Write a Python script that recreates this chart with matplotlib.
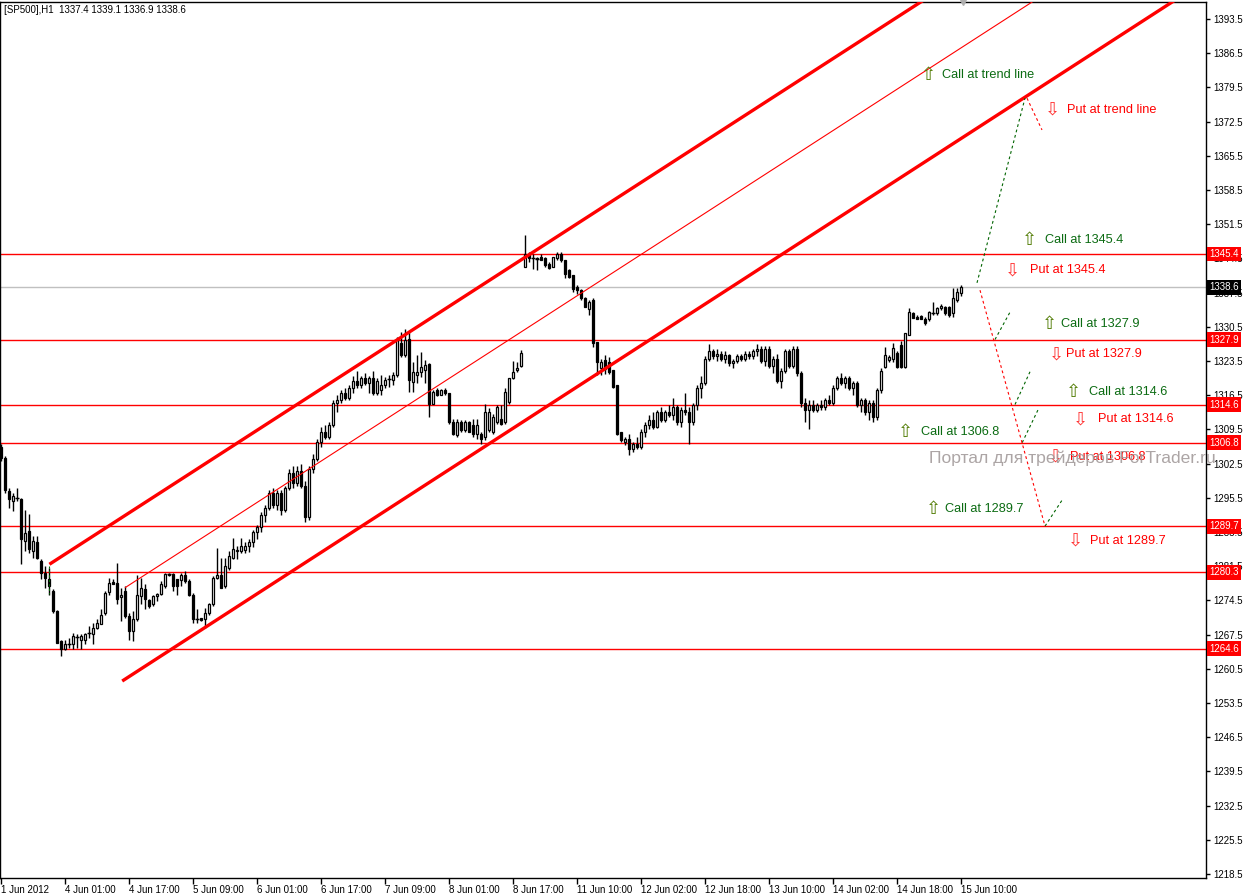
import numpy as np
import matplotlib
matplotlib.use('Agg')
import matplotlib.pyplot as plt

plt.rcParams['font.family'] = ['Liberation Sans', 'DejaVu Sans']

# H1 candles, [SP500] 1 Jun - 15 Jun 2012
opens = [
    1305.8, 1303.6, 1296.9, 1294.8, 1295.5, 1295.2, 1286.7, 1288.7, 1284.6, 1286.5,
    1282.6, 1280.2, 1278.8, 1276.4, 1272.3, 1266.2, 1264.5, 1265.5, 1265.5, 1267.1,
    1266.5, 1266.5, 1267.9, 1267.6, 1268.9, 1269.6, 1272.0, 1276.3, 1278.3, 1278.1,
    1275.1, 1276.4, 1271.3, 1268.2, 1270.6, 1275.5, 1276.8, 1274.5, 1273.7, 1275.4,
    1275.9, 1277.4, 1279.8, 1280.0, 1278.8, 1278.6, 1279.8, 1278.5, 1275.7, 1270.6,
    1271.0, 1270.6, 1272.0, 1273.7, 1279.0, 1279.8, 1277.4, 1281.2, 1283.2, 1284.6,
    1284.6, 1284.8, 1285.6, 1286.5, 1288.5, 1289.5, 1292.0, 1293.5, 1296.5, 1294.0,
    1296.5, 1293.0, 1297.5, 1300.5, 1298.5, 1301.0, 1298.0, 1291.5, 1301.5, 1303.5,
    1307.0, 1309.0, 1308.0, 1310.5, 1315.0, 1315.5, 1317.0, 1316.0, 1318.0, 1319.5,
    1318.5, 1320.0, 1319.0, 1320.0, 1317.0, 1317.5, 1318.5, 1319.8, 1319.6, 1320.6,
    1327.1, 1324.7, 1328.1, 1319.2, 1320.6, 1321.3, 1321.6, 1322.8, 1314.8, 1317.5,
    1316.5, 1317.5, 1316.9, 1311.0, 1308.3, 1311.0, 1309.3, 1311.0, 1310.4, 1308.6,
    1308.6, 1308.0, 1309.3, 1309.0, 1311.0, 1311.7, 1311.0, 1315.1, 1320.1, 1321.6,
    1322.5, 1342.8, 1345.5, 1344.5, 1344.5, 1344.8, 1344.5, 1343.4, 1342.8, 1344.5,
    1345.5, 1344.1, 1342.1, 1341.1, 1338.7, 1338.0, 1336.3, 1334.2, 1335.9, 1327.4,
    1322.0, 1323.7, 1323.3, 1321.6, 1318.5, 1309.0, 1306.9, 1307.6, 1305.5, 1306.5,
    1305.8, 1309.0, 1310.5, 1311.5, 1310.0, 1313.0, 1311.5, 1313.0, 1312.5, 1314.0,
    1311.0, 1313.5, 1313.0, 1311.0, 1314.5, 1318.0, 1319.0, 1324.0, 1325.5, 1324.5,
    1325.0, 1324.0, 1324.8, 1323.0, 1323.5, 1324.5, 1324.0, 1325.0, 1324.5, 1325.5,
    1326.0, 1323.5, 1326.0, 1322.5, 1324.0, 1319.5, 1321.5, 1325.5, 1322.5, 1326.0,
    1321.0, 1315.0, 1313.5, 1314.5, 1313.5, 1314.5, 1314.0, 1315.5, 1315.0, 1318.0,
    1320.0, 1319.0, 1320.0, 1318.0, 1319.0, 1314.5, 1315.5, 1313.0, 1315.0, 1312.0,
    1317.5, 1322.3, 1323.7, 1324.0, 1325.1, 1326.8, 1322.3, 1328.8, 1333.4, 1332.6,
    1332.7, 1332.2, 1332.2, 1333.3, 1333.3, 1334.3, 1334.6, 1334.6, 1333.3, 1336.0,
    1337.4,
]
highs = [
    1306.6, 1304.0, 1297.6, 1296.5, 1297.6, 1295.5, 1293.1, 1292.1, 1287.7, 1287.7,
    1282.9, 1281.5, 1281.2, 1276.8, 1272.5, 1266.4, 1266.5, 1266.9, 1267.9, 1267.6,
    1267.6, 1267.9, 1269.3, 1269.9, 1270.6, 1272.7, 1276.4, 1279.1, 1278.8, 1282.2,
    1277.1, 1277.4, 1272.0, 1272.3, 1279.8, 1279.1, 1277.8, 1274.7, 1275.7, 1276.1,
    1278.5, 1280.2, 1280.2, 1280.2, 1278.8, 1280.2, 1280.5, 1278.8, 1276.1, 1272.7,
    1271.0, 1273.0, 1274.0, 1279.5, 1285.3, 1283.2, 1283.2, 1284.6, 1287.3, 1285.6,
    1287.3, 1286.5, 1287.0, 1289.0, 1290.0, 1292.5, 1294.0, 1297.0, 1297.5, 1297.0,
    1297.0, 1298.0, 1301.5, 1302.0, 1302.0, 1302.5, 1299.0, 1302.0, 1304.5, 1307.5,
    1310.0, 1310.5, 1311.0, 1315.5, 1316.5, 1317.5, 1318.0, 1318.5, 1320.5, 1321.5,
    1320.5, 1321.0, 1320.5, 1321.5, 1320.0, 1320.6, 1320.2, 1320.6, 1321.3, 1328.4,
    1329.5, 1330.1, 1329.5, 1323.3, 1324.7, 1325.4, 1323.7, 1323.0, 1317.5, 1318.0,
    1317.7, 1317.9, 1316.9, 1311.7, 1311.7, 1311.4, 1311.4, 1311.2, 1311.7, 1311.7,
    1309.0, 1314.8, 1313.8, 1312.7, 1314.4, 1314.4, 1317.9, 1317.9, 1323.5, 1323.3,
    1325.7, 1349.2, 1345.8, 1345.5, 1344.8, 1345.5, 1344.8, 1343.8, 1344.8, 1345.8,
    1345.8, 1344.1, 1342.4, 1341.1, 1339.0, 1338.3, 1336.6, 1335.9, 1336.3, 1327.4,
    1324.0, 1324.7, 1324.3, 1321.6, 1318.5, 1309.0, 1308.0, 1308.5, 1307.0, 1308.0,
    1309.5, 1311.0, 1312.5, 1313.0, 1313.5, 1314.0, 1313.5, 1314.5, 1316.0, 1314.5,
    1314.0, 1317.0, 1314.0, 1315.0, 1318.5, 1320.5, 1324.5, 1327.0, 1326.0, 1326.0,
    1325.5, 1325.5, 1325.0, 1324.0, 1325.0, 1325.0, 1325.5, 1325.5, 1326.0, 1327.0,
    1326.5, 1326.5, 1326.5, 1324.5, 1325.0, 1322.0, 1326.0, 1326.0, 1326.5, 1326.5,
    1321.5, 1316.0, 1315.5, 1315.5, 1315.0, 1315.5, 1316.0, 1316.5, 1318.5, 1320.5,
    1321.0, 1320.5, 1320.5, 1319.5, 1319.5, 1316.0, 1316.0, 1315.5, 1315.5, 1318.0,
    1322.0, 1326.4, 1324.7, 1327.1, 1325.5, 1327.5, 1329.2, 1334.3, 1333.6, 1332.9,
    1333.0, 1332.6, 1333.7, 1335.6, 1334.6, 1335.1, 1334.8, 1334.8, 1338.4, 1338.4,
    1339.1,
]
lows = [
    1303.0, 1296.5, 1293.5, 1292.8, 1294.8, 1281.9, 1284.6, 1284.3, 1283.2, 1282.9,
    1278.8, 1277.1, 1275.7, 1272.0, 1265.8, 1263.1, 1264.3, 1264.8, 1264.5, 1264.8,
    1264.5, 1265.5, 1266.9, 1265.5, 1268.6, 1269.6, 1271.6, 1275.7, 1277.8, 1273.7,
    1270.3, 1271.0, 1266.5, 1266.2, 1270.3, 1273.7, 1272.7, 1273.0, 1273.4, 1274.4,
    1275.7, 1277.1, 1279.5, 1276.4, 1275.7, 1277.4, 1278.1, 1275.4, 1269.9, 1269.9,
    1270.3, 1268.9, 1271.6, 1273.4, 1278.9, 1277.1, 1277.1, 1280.8, 1282.9, 1282.9,
    1284.3, 1284.3, 1284.5, 1285.5, 1287.0, 1288.5, 1290.5, 1293.0, 1293.5, 1293.0,
    1292.0, 1292.5, 1297.0, 1297.5, 1298.0, 1297.5, 1290.5, 1291.0, 1300.5, 1303.0,
    1306.0, 1307.5, 1307.5, 1310.0, 1313.0, 1315.0, 1315.5, 1315.5, 1317.0, 1318.0,
    1318.0, 1318.5, 1317.0, 1316.5, 1316.5, 1316.5, 1317.9, 1318.2, 1318.5, 1320.2,
    1324.3, 1324.3, 1317.2, 1317.2, 1318.9, 1320.2, 1318.9, 1312.1, 1314.8, 1316.4,
    1316.5, 1316.5, 1310.7, 1308.3, 1308.0, 1309.0, 1309.0, 1309.0, 1308.0, 1307.6,
    1306.6, 1307.3, 1309.0, 1308.6, 1310.7, 1310.4, 1310.7, 1314.8, 1319.9, 1321.3,
    1322.3, 1342.8, 1343.8, 1342.4, 1342.1, 1344.1, 1342.8, 1342.4, 1342.8, 1344.1,
    1343.8, 1340.4, 1340.4, 1337.6, 1337.3, 1336.0, 1334.6, 1332.9, 1326.4, 1320.6,
    1320.6, 1320.9, 1320.9, 1317.9, 1308.3, 1306.9, 1306.3, 1304.3, 1304.8, 1305.5,
    1305.5, 1308.0, 1309.5, 1309.5, 1309.8, 1311.0, 1311.0, 1312.0, 1311.5, 1310.5,
    1310.0, 1312.5, 1306.5, 1310.5, 1313.5, 1316.0, 1318.5, 1323.5, 1324.0, 1323.5,
    1323.5, 1323.0, 1322.5, 1322.0, 1323.0, 1323.5, 1323.5, 1324.0, 1324.0, 1324.5,
    1323.0, 1322.5, 1322.0, 1321.0, 1319.0, 1318.0, 1321.0, 1322.0, 1322.0, 1320.5,
    1314.0, 1311.0, 1309.5, 1313.0, 1313.0, 1313.5, 1313.5, 1314.5, 1314.5, 1317.5,
    1318.5, 1318.0, 1317.5, 1316.5, 1314.0, 1313.0, 1312.5, 1311.5, 1311.0, 1311.5,
    1317.0, 1322.0, 1323.4, 1323.4, 1322.0, 1322.0, 1322.0, 1328.8, 1332.4, 1332.0,
    1332.0, 1330.9, 1331.6, 1332.9, 1332.9, 1334.0, 1332.9, 1332.6, 1332.6, 1335.6,
    1336.9,
]
closes = [
    1303.6, 1297.2, 1295.2, 1295.9, 1295.5, 1287.0, 1288.4, 1285.0, 1286.7, 1283.2,
    1280.2, 1279.1, 1277.4, 1272.3, 1265.8, 1264.5, 1265.5, 1265.6, 1267.2, 1267.0,
    1267.2, 1267.6, 1267.9, 1268.9, 1269.9, 1271.6, 1276.1, 1278.1, 1277.8, 1274.7,
    1275.7, 1271.3, 1268.2, 1270.6, 1275.7, 1277.1, 1274.7, 1273.4, 1275.4, 1275.9,
    1277.8, 1280.0, 1279.9, 1277.4, 1277.4, 1279.8, 1278.5, 1275.7, 1270.6, 1270.6,
    1270.4, 1272.0, 1273.7, 1279.1, 1279.8, 1277.1, 1281.5, 1283.6, 1285.0, 1284.8,
    1285.6, 1285.6, 1286.5, 1288.5, 1289.5, 1292.0, 1293.5, 1296.5, 1294.0, 1296.5,
    1293.0, 1297.5, 1300.5, 1298.5, 1301.0, 1298.0, 1291.5, 1301.5, 1303.5, 1307.0,
    1309.0, 1308.0, 1310.5, 1315.0, 1315.5, 1317.0, 1316.0, 1318.0, 1319.5, 1318.5,
    1320.0, 1319.0, 1320.0, 1317.0, 1319.5, 1318.5, 1319.6, 1319.9, 1320.6, 1328.1,
    1324.7, 1327.7, 1319.6, 1321.3, 1321.3, 1322.3, 1322.6, 1314.8, 1317.2, 1316.5,
    1317.5, 1316.9, 1311.0, 1308.6, 1311.0, 1309.3, 1311.0, 1309.0, 1308.6, 1310.4,
    1307.6, 1313.1, 1313.1, 1312.1, 1314.1, 1310.7, 1317.2, 1320.1, 1321.3, 1322.1,
    1325.2, 1345.5, 1344.5, 1344.5, 1344.4, 1344.1, 1343.1, 1342.6, 1344.8, 1345.5,
    1344.1, 1341.4, 1340.7, 1338.3, 1338.0, 1336.3, 1334.6, 1335.6, 1327.1, 1323.3,
    1323.3, 1321.9, 1321.3, 1318.2, 1308.6, 1307.3, 1307.6, 1305.5, 1306.5, 1305.8,
    1309.0, 1310.5, 1311.5, 1310.0, 1313.0, 1311.5, 1313.0, 1312.5, 1314.0, 1311.0,
    1313.5, 1313.0, 1311.0, 1314.5, 1318.0, 1319.0, 1324.0, 1325.5, 1324.5, 1325.0,
    1324.0, 1324.8, 1323.0, 1323.5, 1324.5, 1324.0, 1325.0, 1324.5, 1325.5, 1326.0,
    1323.5, 1326.0, 1322.5, 1324.0, 1319.5, 1321.5, 1325.5, 1322.5, 1326.0, 1321.0,
    1315.0, 1313.5, 1314.5, 1313.5, 1314.5, 1314.0, 1315.5, 1315.0, 1318.0, 1320.0,
    1319.0, 1320.0, 1318.0, 1319.0, 1314.5, 1315.5, 1313.0, 1315.0, 1312.0, 1317.5,
    1321.5, 1324.7, 1324.4, 1326.1, 1322.3, 1322.3, 1329.2, 1333.6, 1332.4, 1332.2,
    1332.2, 1331.2, 1333.6, 1333.4, 1334.3, 1334.8, 1333.3, 1332.9, 1336.3, 1337.6,
    1338.6,
]

x_labels = ['1 Jun 2012', '4 Jun 01:00', '4 Jun 17:00', '5 Jun 09:00', '6 Jun 01:00',
            '6 Jun 17:00', '7 Jun 09:00', '8 Jun 01:00', '8 Jun 17:00', '11 Jun 10:00',
            '12 Jun 02:00', '12 Jun 18:00', '13 Jun 10:00', '14 Jun 02:00',
            '14 Jun 18:00', '15 Jun 10:00']
y_ticks = [1393.5 - 7 * k for k in range(26)]

levels = [1345.4, 1327.9, 1314.6, 1306.8, 1289.7, 1280.3, 1264.6]
last_price = 1338.6

# channel lines: (bar start, price start, bar end, price end)
channel_upper = (12.1, 1281.9, 300.0, 1434.0)
channel_mid = (31.0, 1277.1, 300.0, 1419.3)
channel_lower = (30.3, 1258.0, 300.0, 1400.8)

# projected paths
green_paths = [
    [(244.0, 1339.5), (256.0, 1377.3)],
    [(248.5, 1327.9), (252.25, 1333.5)],
    [(253.5, 1314.6), (257.25, 1321.3)],
    [(255.3, 1306.8), (259.25, 1313.5)],
    [(261.0, 1289.7), (265.25, 1295.0)],
]
red_paths = [
    [(256.5, 1377.3), (260.25, 1370.8)],
    [(244.75, 1338.0), (261.0, 1289.7)],
]

# signals: (arrow bar, text bar, price, text)
calls = [
    (231.75, 235.25, 1382.0, 'Call at trend line'),
    (257.0, 261.0, 1348.3, 'Call at 1345.4'),
    (262.0, 265.0, 1331.1, 'Call at 1327.9'),
    (268.0, 272.0, 1317.2, 'Call at 1314.6'),
    (226.0, 230.0, 1309.0, 'Call at 1306.8'),
    (233.0, 236.0, 1293.2, 'Call at 1289.7'),
]
puts = [
    (262.75, 266.5, 1374.9, 'Put at trend line'),
    (252.75, 257.25, 1342.1, 'Put at 1345.4'),
    (263.75, 266.25, 1324.9, 'Put at 1327.9'),
    (269.75, 274.25, 1311.6, 'Put at 1314.6'),
    (263.5, 267.25, 1303.9, 'Put at 1306.8'),
    (268.5, 272.25, 1286.7, 'Put at 1289.7'),
]

W, H = 1245, 894
fig = plt.figure(figsize=(W / 100, H / 100), dpi=100)
ax = fig.add_axes([0, (H - 878) / H, 1206 / W, 876 / H])
ax.set_xlim(-0.25, 301.25)
ax.set_ylim(1217.69, 1396.98)

o = np.array(opens)
h = np.array(highs)
l = np.array(lows)
c = np.array(closes)
idx = np.arange(len(c))
up = c >= o

# horizontal levels
for lv in levels:
    ax.axhline(lv, color='red', lw=1, zorder=1)
ax.axhline(last_price, color='#c0c0c0', lw=1, zorder=1)

# candles
ax.vlines(idx, l, h, color='black', lw=1, zorder=3)
ax.bar(idx, np.abs(c - o), bottom=np.minimum(o, c), width=0.72,
       color=np.where(up, 'white', 'black'), edgecolor='black', linewidth=0.9, zorder=4)
doji = np.abs(c - o) < 0.15
ax.hlines(c[doji], idx[doji] - 0.4, idx[doji] + 0.4, color='black', lw=1, zorder=4)

# channel
for ln, lw in [(channel_upper, 2.4), (channel_lower, 2.4), (channel_mid, 0.8)]:
    ax.plot([ln[0], ln[2]], [ln[1], ln[3]], color='red', lw=lw, zorder=5,
            solid_capstyle='butt')
ax.plot([12.0, 12.0], [1281.5, 1275.8], color='#006400', lw=0.8,
        dashes=(2, 2), zorder=5)

for p in green_paths:
    ax.plot([p[0][0], p[1][0]], [p[0][1], p[1][1]], color='#006400', lw=0.8,
            dashes=(2.5, 2.5), zorder=5)
for p in red_paths:
    ax.plot([p[0][0], p[1][0]], [p[0][1], p[1][1]], color='red', lw=0.8,
            dashes=(2.5, 2.5), zorder=5)

for ab, tb, pr, txt in calls:
    ax.text(ab, pr, '\u21e7', color='#4f7a00', fontsize=13, ha='center', va='center',
            family='DejaVu Sans', zorder=6)
    ax.text(tb, pr, txt, color='#0b6b12', fontsize=9.2, ha='left', va='center', zorder=6)
for ab, tb, pr, txt in puts:
    ax.text(ab, pr, '\u21e9', color='#ff3030', fontsize=13, ha='center', va='center',
            family='DejaVu Sans', zorder=6)
    ax.text(tb, pr, txt, color='red', fontsize=9.2, ha='left', va='center', zorder=6)

ax.text(232.0, 1303.6, 'Портал для трейдеров ForTrader.ru', color='#a39b9b',
        fontsize=12.6, ha='left', va='center', alpha=0.9, zorder=7, clip_on=False)

# axes styling
for s in ax.spines.values():
    s.set_color('black')
    s.set_linewidth(1)
ax.yaxis.tick_right()
ax.set_yticks(y_ticks)
ax.set_yticklabels([f'{v:.1f}' for v in y_ticks])
ax.tick_params(axis='y', length=3, width=1, pad=2, labelsize=7, colors='black')
ax.set_xticks(idx[::16])
ax.set_xticklabels(x_labels, ha='left')
ax.tick_params(axis='x', length=4, width=1, pad=1, labelsize=7, colors='black')

ytr = ax.get_yaxis_transform()
for lv in levels:
    ax.text(1.0025, lv, f'{lv:.1f}', transform=ytr, color='white', fontsize=7,
            ha='left', va='center', clip_on=False, zorder=8,
            bbox=dict(boxstyle='square,pad=0.25', fc='red', ec='none'))
ax.text(1.0025, last_price, f'{last_price:.1f}', transform=ytr, color='white', fontsize=7,
        ha='left', va='center', clip_on=False, zorder=8,
        bbox=dict(boxstyle='square,pad=0.25', fc='black', ec='none'))

ax.plot([240.5], [1396.98], marker='v', ms=5, color='#b0b0b0', clip_on=False, zorder=8)

fig.text(4 / W, 1 - 10 / H, '[SP500],H1  1337.4 1339.1 1336.9 1338.6', fontsize=7,
         ha='left', va='center', color='black')

fig.savefig('out.png', dpi=100)
